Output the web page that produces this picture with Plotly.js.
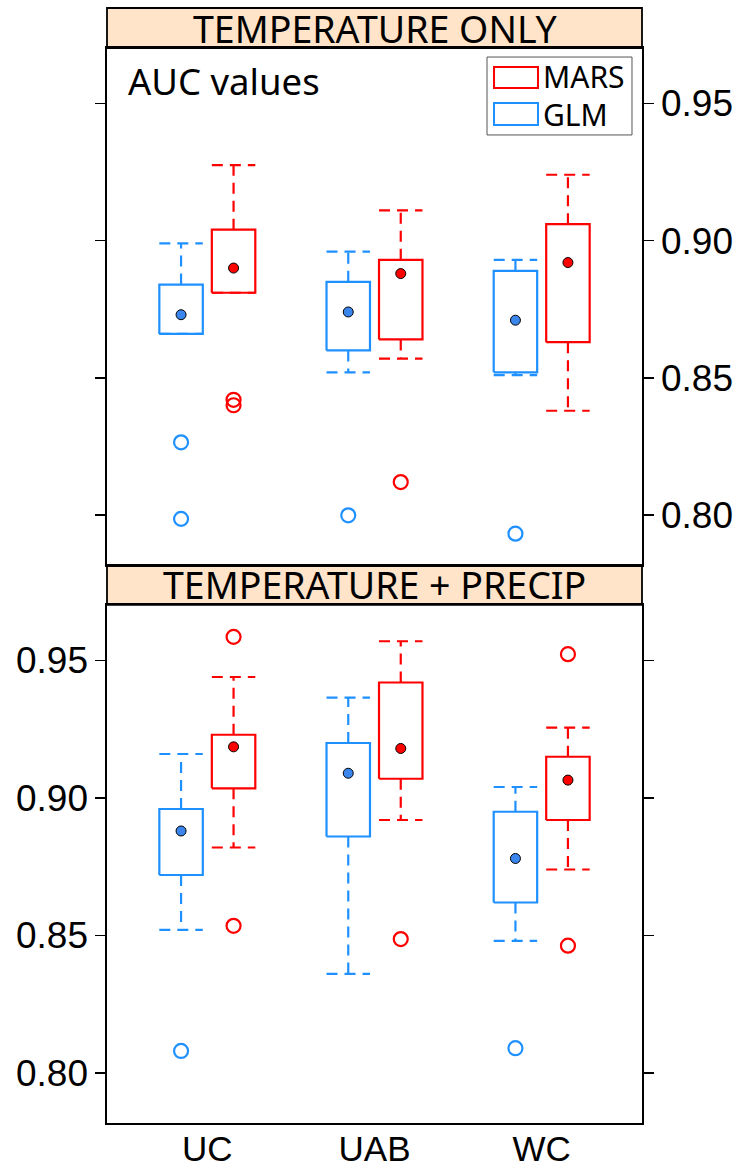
<!DOCTYPE html>
<html>
<head>
<meta charset="utf-8">
<script src="https://cdn.plot.ly/plotly-3.0.1.min.js"></script>
<style>html,body{margin:0;padding:0;background:#fff;}</style>
</head>
<body>
<div id="chart" style="width:742px;height:1172px;"></div>
<script>
// ---- data ----
const categories = ['UC', 'UAB', 'WC'];
const panelTitles = ['TEMPERATURE ONLY', 'TEMPERATURE + PRECIP'];
const seriesNames = ['MARS', 'GLM'];
const yTickVals = [0.80, 0.85, 0.90, 0.95];
const yTickText = ['0.80', '0.85', '0.90', '0.95'];

// Temperature only — GLM
const glmTempLow = [0.866, 0.852, 0.851];
const glmTempQ1 = [0.866, 0.860, 0.852];
const glmTempMed = [0.873, 0.874, 0.871];
const glmTempQ3 = [0.884, 0.885, 0.889];
const glmTempHigh = [0.899, 0.896, 0.893];
const glmTempOut = [[0.8265, 0.7986], [0.7999], [0.7932]];
// Temperature only — MARS
const marsTempLow = [0.881, 0.857, 0.838];
const marsTempQ1 = [0.881, 0.864, 0.863];
const marsTempMed = [0.890, 0.888, 0.892];
const marsTempQ3 = [0.904, 0.893, 0.906];
const marsTempHigh = [0.9275, 0.911, 0.924];
const marsTempOut = [[0.842, 0.840], [0.812], []];
// Temperature + precip — GLM
const glmPrecLow = [0.852, 0.836, 0.848];
const glmPrecQ1 = [0.872, 0.886, 0.862];
const glmPrecMed = [0.888, 0.909, 0.878];
const glmPrecQ3 = [0.896, 0.920, 0.895];
const glmPrecHigh = [0.916, 0.9365, 0.904];
const glmPrecOut = [[0.808], [], [0.809]];
// Temperature + precip — MARS
const marsPrecLow = [0.882, 0.892, 0.874];
const marsPrecQ1 = [0.9035, 0.907, 0.892];
const marsPrecMed = [0.9186, 0.918, 0.9065];
const marsPrecQ3 = [0.923, 0.942, 0.915];
const marsPrecHigh = [0.944, 0.957, 0.9256];
const marsPrecOut = [[0.9586, 0.8535], [0.8487], [0.9523, 0.8463]];

// ---- styles ----
const BLUE = '#1E90FF', RED = '#FF0000';
const BLUE_DOT = '#3A86EC', RED_DOT = '#FF0000';
const OFF = 0.157, HW = 0.13;
const WHISKER_DASH = '11px,7px';

function boxTraces(s, off, color, dotColor, xa, ya) {
  const bx = [], by = [], wx = [], wy = [], mx = [], my = [], ox = [], oy = [];
  categories.forEach((c, i) => {
    const xc = i + 1 + off, x0 = xc - HW, x1 = xc + HW;
    bx.push(x0, x1, x1, x0, x0, null);
    by.push(s.q1[i], s.q1[i], s.q3[i], s.q3[i], s.q1[i], null);
    wx.push(xc, xc, null, x0, x1, null, xc, xc, null, x0, x1, null);
    wy.push(s.q3[i], s.high[i], null, s.high[i], s.high[i], null,
            s.q1[i], s.low[i], null, s.low[i], s.low[i], null);
    mx.push(xc); my.push(s.med[i]);
    s.out[i].forEach(v => { ox.push(xc); oy.push(v); });
  });
  return [
    {type: 'scatter', mode: 'lines', x: wx, y: wy, xaxis: xa, yaxis: ya,
     line: {color: color, width: 2.2, dash: WHISKER_DASH}, hoverinfo: 'skip', showlegend: false},
    {type: 'scatter', mode: 'lines', x: bx, y: by, xaxis: xa, yaxis: ya,
     line: {color: color, width: 2.2}, hoverinfo: 'skip', showlegend: false},
    {type: 'scatter', mode: 'markers', x: mx, y: my, xaxis: xa, yaxis: ya,
     marker: {size: 10, color: dotColor, line: {color: '#000', width: 1}}, hoverinfo: 'skip', showlegend: false},
    {type: 'scatter', mode: 'markers', x: ox, y: oy, xaxis: xa, yaxis: ya,
     marker: {size: 14, symbol: 'circle-open', color: color, line: {color: color, width: 2.2}},
     hoverinfo: 'skip', showlegend: false}
  ];
}

const traces = [].concat(
  boxTraces({low: glmTempLow, q1: glmTempQ1, med: glmTempMed, q3: glmTempQ3, high: glmTempHigh, out: glmTempOut}, -OFF, BLUE, BLUE_DOT, 'x', 'y'),
  boxTraces({low: marsTempLow, q1: marsTempQ1, med: marsTempMed, q3: marsTempQ3, high: marsTempHigh, out: marsTempOut}, OFF, RED, RED_DOT, 'x', 'y'),
  boxTraces({low: glmPrecLow, q1: glmPrecQ1, med: glmPrecMed, q3: glmPrecQ3, high: glmPrecHigh, out: glmPrecOut}, -OFF, BLUE, BLUE_DOT, 'x2', 'y2'),
  boxTraces({low: marsPrecLow, q1: marsPrecQ1, med: marsPrecMed, q3: marsPrecQ3, high: marsPrecHigh, out: marsPrecOut}, OFF, RED, RED_DOT, 'x2', 'y2')
);

const TICKFONT = {family: 'Liberation Sans, Arial, sans-serif', size: 37, color: '#000'};
const XTICKFONT = {family: 'Liberation Sans, Arial, sans-serif', size: 35, color: '#000'};
const STRIPFONT = {family: 'Noto Sans, Open Sans, sans-serif', size: 37.5, color: '#000'};
const YR = [0.7818, 0.9702];
const topDom = [0.5191, 1], botDom = [0, 0.4819];

const xBase = {range: [0.4, 3.6], showgrid: false, zeroline: false, showline: true,
  linecolor: '#000', linewidth: 1.6, mirror: true, ticks: '', fixedrange: true,
  tickvals: [1, 2, 3], ticktext: categories, tickfont: XTICKFONT};
const yBase = {range: YR, showgrid: false, zeroline: false, showline: true,
  linecolor: '#000', linewidth: 1.6, mirror: 'ticks', ticks: 'outside', ticklen: 10,
  tickwidth: 1.6, tickcolor: '#000', tickvals: yTickVals, ticktext: yTickText,
  tickfont: TICKFONT, fixedrange: true};

const stripH = 40 / 1075;
const layout = {
  width: 742, height: 1172,
  margin: {l: 107, r: 100, t: 48, b: 49},
  paper_bgcolor: '#fff', plot_bgcolor: '#fff',
  showlegend: false,
  xaxis: Object.assign({}, xBase, {anchor: 'y', showticklabels: false}),
  yaxis: Object.assign({}, yBase, {domain: topDom, anchor: 'x', side: 'right'}),
  xaxis2: Object.assign({}, xBase, {anchor: 'y2', showticklabels: true, ticklabelstandoff: -6}),
  yaxis2: Object.assign({}, yBase, {domain: botDom, anchor: 'x2', side: 'left'}),
  shapes: [
    // strips
    {type: 'rect', xref: 'paper', yref: 'paper', x0: 0, x1: 1, y0: 1, y1: 1 + stripH,
     fillcolor: '#FFE4C9', line: {color: '#000', width: 1.8}, layer: 'below'},
    {type: 'rect', xref: 'paper', yref: 'paper', x0: 0, x1: 1, y0: botDom[1], y1: topDom[0],
     fillcolor: '#FFE4C9', line: {color: '#000', width: 1.8}, layer: 'below'},
    // legend box
    {type: 'rect', xref: 'paper', yref: 'paper', x0: 0.7103, x1: 0.9813, y0: 0.9191, y1: 0.9916,
     fillcolor: '#fff', line: {color: '#555', width: 1}},
    {type: 'rect', xref: 'paper', yref: 'paper', x0: 0.7234, x1: 0.8056, y0: 0.9628, y1: 0.9823,
     fillcolor: 'rgba(0,0,0,0)', line: {color: RED, width: 2}},
    {type: 'rect', xref: 'paper', yref: 'paper', x0: 0.7234, x1: 0.8056, y0: 0.9284, y1: 0.9488,
     fillcolor: 'rgba(0,0,0,0)', line: {color: BLUE, width: 2}}
  ],
  annotations: [
    {xref: 'paper', yref: 'paper', x: 0.5, y: 1 + stripH / 2, text: panelTitles[0], showarrow: false,
     xanchor: 'center', yanchor: 'middle', font: STRIPFONT},
    {xref: 'paper', yref: 'paper', x: 0.5, y: (botDom[1] + topDom[0]) / 2, text: panelTitles[1], showarrow: false,
     xanchor: 'center', yanchor: 'middle', font: STRIPFONT},
    {xref: 'paper', yref: 'paper', x: 0.035, y: 0.9693, text: 'AUC values', showarrow: false,
     xanchor: 'left', yanchor: 'middle', font: {family: 'Noto Sans, sans-serif', size: 36.5, color: '#000'}},
    {xref: 'paper', yref: 'paper', x: 0.812, y: 0.9735, text: seriesNames[0], showarrow: false,
     xanchor: 'left', yanchor: 'middle', font: {family: 'Noto Sans, sans-serif', size: 30, color: '#000'}},
    {xref: 'paper', yref: 'paper', x: 0.812, y: 0.9380, text: seriesNames[1], showarrow: false,
     xanchor: 'left', yanchor: 'middle', font: {family: 'Noto Sans, sans-serif', size: 30, color: '#000'}}
  ]
};

Plotly.newPlot('chart', traces, layout, {staticPlot: true, displayModeBar: false});
</script>
</body>
</html>
